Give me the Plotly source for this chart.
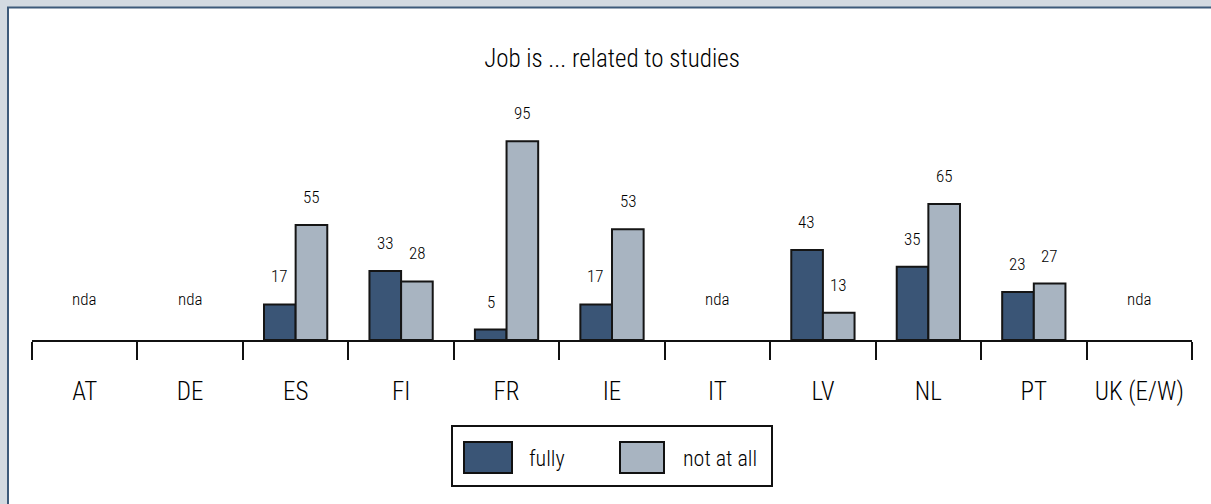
import plotly.graph_objects as go

countries = ["AT", "DE", "ES", "FI", "FR", "IE", "IT", "LV", "NL", "PT", "UK (E/W)"]
fully = [None, None, 17, 33, 5, 17, None, 43, 35, 23, None]
not_at_all = [None, None, 55, 28, 95, 53, None, 13, 65, 27, None]
series_names = ["fully", "not at all"]
nda_label = "nda"
title_text = "Job is ... related to studies"

W, H = 1211, 504
L, R = 32, 1192       # plot area x pixels
T, B = 110, 340       # plot area y pixels
YMAX = 110

def px(x):
    return (x - L) / (R - L)

def py(y):
    return (B - y) / (B - T)

FONT = "Roboto Condensed, Liberation Sans Narrow, sans-serif"
WGT = 300
DARK = "#3a5576"
LIGHT = "#a8b4c1"
EDGE = "#151515"
TXT = "#000000"

fig = go.Figure()
for name, vals, col in [(series_names[0], fully, DARK), (series_names[1], not_at_all, LIGHT)]:
    fig.add_trace(go.Bar(
        x=countries, y=vals, name=name,
        marker=dict(color=col, line=dict(color=EDGE, width=2)),
        showlegend=False, hoverinfo="skip",
    ))

def tfont(size):
    return dict(size=size, family=FONT, color=TXT, weight=WGT)

annotations = []
bar_offset = 0.152  # half bar width in category units
for i, c in enumerate(countries):
    f, n = fully[i], not_at_all[i]
    if f is None and n is None:
        annotations.append(dict(x=i, y=0, xref="x", yref="y", text=nda_label, showarrow=False,
                                yshift=41, font=tfont(17)))
        continue
    for v, sh in [(f, -1), (n, 1)]:
        if v is None:
            continue
        annotations.append(dict(x=i + sh * bar_offset, y=v, xref="x", yref="y", text=str(v),
                                showarrow=False, yshift=28, font=tfont(17)))

shapes = [
    # white panel with blue border
    dict(type="rect", xref="paper", yref="paper", x0=px(8), x1=px(1240), y0=py(540), y1=py(7.5),
         fillcolor="white", line=dict(color="#3d5a7a", width=2), layer="below"),
    # legend box
    dict(type="rect", xref="paper", yref="paper", x0=px(452), x1=px(772), y0=py(486), y1=py(426),
         fillcolor="white", line=dict(color="#111", width=2)),
    dict(type="rect", xref="paper", yref="paper", x0=px(464), x1=px(512), y0=py(473), y1=py(442),
         fillcolor=DARK, line=dict(color="#111", width=2)),
    dict(type="rect", xref="paper", yref="paper", x0=px(620), x1=px(664), y0=py(473), y1=py(442),
         fillcolor=LIGHT, line=dict(color="#111", width=2)),
]
annotations += [
    dict(x=px(527), y=py(458), xref="paper", yref="paper", text=series_names[0], showarrow=False,
         xanchor="left", yanchor="middle", font=tfont(22)),
    dict(x=px(681), y=py(458), xref="paper", yref="paper", text=series_names[1], showarrow=False,
         xanchor="left", yanchor="middle", font=tfont(22)),
]

fig.update_layout(
    width=W, height=H,
    margin=dict(l=L, r=W - R, t=T, b=H - B, pad=0),
    paper_bgcolor="#d3dae1",
    plot_bgcolor="rgba(0,0,0,0)",
    barmode="group", bargap=0.40, bargroupgap=0,
    title=dict(text=title_text, x=0.5, xref="paper", xanchor="center", y=1 - 58 / H, yanchor="middle",
               font=tfont(25)),
    xaxis=dict(type="category", range=[-0.5, 10.5], tickson="boundaries", ticks="outside",
               ticklen=18, tickwidth=2, tickcolor="#111", showline=True, linecolor="#111",
               linewidth=2, showgrid=False, zeroline=False, ticklabelstandoff=28,
               tickfont=tfont(25), fixedrange=True),
    yaxis=dict(range=[0, YMAX], visible=False, showgrid=False, zeroline=False, fixedrange=True),
    shapes=shapes,
    annotations=annotations,
    showlegend=False,
)

fig.write_html("out.html", config={"displayModeBar": False},
               post_script="document.body.style.margin='0';")
